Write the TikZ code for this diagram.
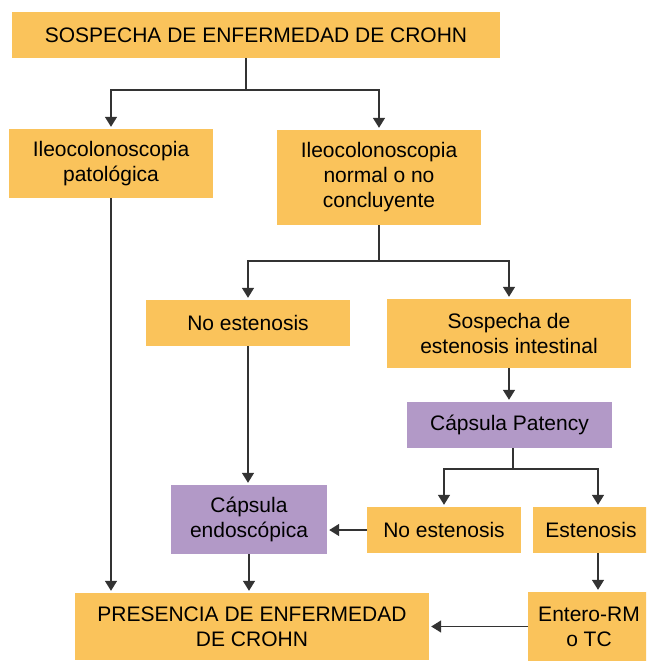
\documentclass[tikz,border=0pt]{standalone}
\usepackage{fontspec}
\setmainfont{Liberation Sans}
\usetikzlibrary{arrows.meta}
\definecolor{naranja}{HTML}{FAC35B}
\definecolor{lila}{HTML}{B299C7}
\definecolor{linea}{HTML}{333333}

\begin{document}
\begin{tikzpicture}[x=1pt, y=-1pt,
    box/.style = {fill=naranja, inner sep=0pt, align=center, font=\fontsize{21}{25}\selectfont},
    caps/.style = {box, fill=lila},
    con/.style = {draw=linea, line width=1.5pt},
    arr/.style = {con, -{Triangle[width=12pt,length=10pt]}, shorten >=2pt} ]
        \useasboundingbox (0,0) rectangle (646,661);
        \clip (0,0) rectangle (646,661);

        \node[box, minimum width=488pt, minimum height=46pt] (S) at (256,35) {SOSPECHA DE ENFERMEDAD DE CROHN};
        \node[box, minimum width=204pt, minimum height=69pt] (IP) at (111,163.5) {Ileocolonoscopia\\patológica};
        \node[box, minimum width=204pt, minimum height=95pt] (IN) at (379,177.5) {Ileocolonoscopia\\normal o no\\concluyente};
        \node[box, minimum width=204pt, minimum height=46pt] (NE1) at (248,323) {No estenosis};
        \node[box, minimum width=244pt, minimum height=69pt] (SE) at (509,333.5) {Sospecha de\\estenosis intestinal};
        \node[caps, minimum width=205pt, minimum height=46pt] (CP) at (509.5,425) {Cápsula Patency};
        \node[caps, minimum width=156pt, minimum height=69pt] (CE) at (249,519.5) {Cápsula\\endoscópica};
        \node[box, minimum width=154pt, minimum height=46pt] (NE2) at (444,530) {No estenosis};
        \node[box, minimum width=116pt, minimum height=46pt] (E) at (591,530) {Estenosis};
        \node[box, minimum width=354pt, minimum height=67pt] (P) at (252,626.5) {PRESENCIA DE ENFERMEDAD\\DE CROHN};
        \node[box, minimum width=122pt, minimum height=69pt] (RM) at (589,626.5) {Entero-RM\\o TC};

        \coordinate (j1) at (246,90);
        \coordinate (j2) at (379,261);
        \coordinate (j3) at (513,469);
        \coordinate (j4) at (598,469);

        \draw[con] (j1 |- S.south) -- (j1);
        \draw[arr] (j1) -| (IP.north);
        \draw[arr] (j1) -| (IN.north);
        \draw[arr] (IP.south) -- (IP.south |- P.north);
        \draw[con] (IN.south) -- (j2);
        \draw[arr] (j2) -| (NE1.north);
        \draw[arr] (j2) -| (SE.north);
        \draw[arr] (NE1.south) -- (NE1.south |- CE.north);
        \draw[arr] (SE.south) -- (SE.south |- CP.north);
        \draw[con] (j3 |- CP.south) -- (j3);
        \draw[arr] (j3) -| (NE2.north);
        \draw[arr] (j3) -- (j4) -- (j4 |- E.north);
        \draw[arr] (NE2.west) -- (NE2.west -| CE.east);
        \draw[arr] (CE.south) -- (CE.south |- P.north);
        \draw[arr] (j4 |- E.south) -- (j4 |- RM.north);
        \draw[arr] (RM.west) -- (RM.west -| P.east);

    \end{tikzpicture}
\end{document}
